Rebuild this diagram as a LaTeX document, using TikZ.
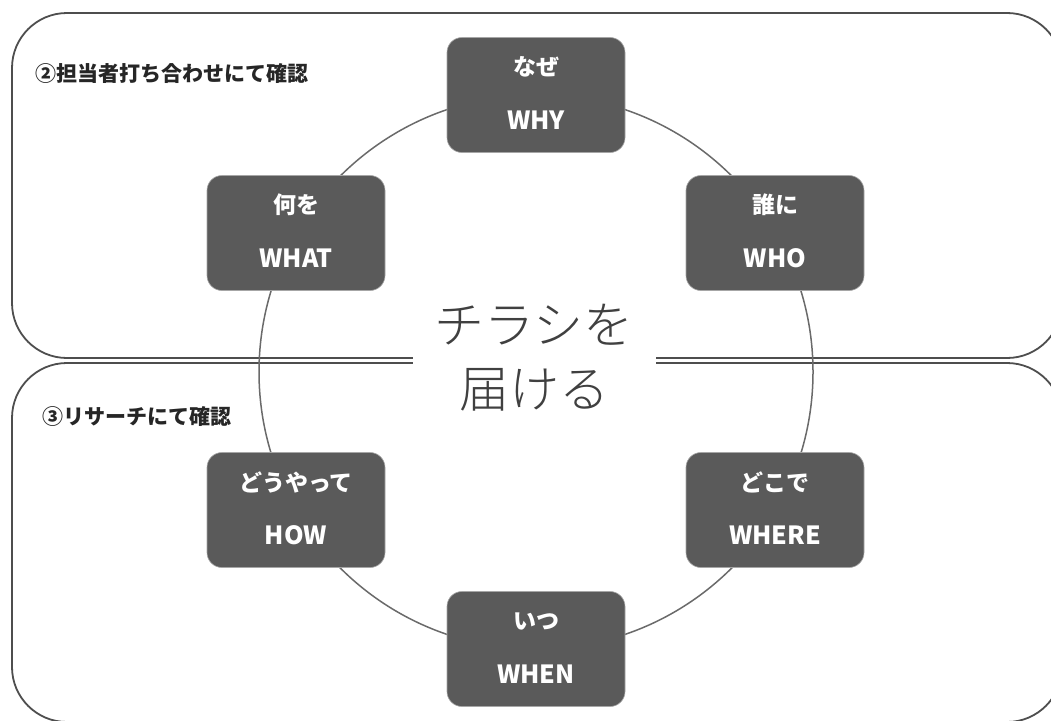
\documentclass[tikz,border=0pt]{standalone}
\usepackage{fontspec}
\newfontfamily\jp{Noto Sans CJK JP}
\newfontfamily\jplight{Noto Sans CJK JP Light}
\definecolor{cardfill}{HTML}{5A5A5A}
\definecolor{ringcol}{HTML}{6A6A6A}
\definecolor{panelcol}{HTML}{4E4E4E}
\definecolor{centcol}{HTML}{404040}
\begin{document}
\begin{tikzpicture}[x=1pt,y=-1pt,
  panel/.style={draw=panelcol,line width=1.8pt,rounded corners=55pt},
  ring/.style={draw=ringcol,line width=1.5pt},
  card/.style={fill=cardfill,draw=gray!70,line width=0.6pt,rounded corners=15pt,minimum width=178pt,minimum height=115pt,inner sep=0pt},
  jtxt/.style={text=white,font=\jp\bfseries\fontsize{23}{26}\selectfont,inner sep=0pt},
  etxt/.style={text=white,font=\jp\bfseries\fontsize{25}{28}\selectfont,inner sep=0pt},
  lbl/.style={text=black!85,font=\jp\bfseries\fontsize{21}{24}\selectfont,anchor=west,inner sep=0pt},
  centre/.style={text=centcol,font=\jplight\fontsize{50}{64}\selectfont,align=center,fill=white,inner xsep=22pt,inner ysep=4pt}
]
\useasboundingbox (0,0) rectangle (1051,720);
\clip (0,0) rectangle (1051,720);
\fill[white] (0,0) rectangle (1051,720);
% panels
\draw[panel] (12,13) rectangle (1062,358);
\draw[panel] (12,363) rectangle (1062,722);
% ring
\draw[ring] (536,372) circle (277);
% labels
\node[lbl] (l2) at (35,74) {②担当者打ち合わせにて確認};
\node[lbl] (l3) at (42,417) {③リサーチにて確認};
% centre
\node[centre] (c) at (534,358) {チラシを\\届ける};
% cards
\foreach \n/\x/\y/\j/\e in {why/536/95/なぜ/WHY, what/296/233/何を/WHAT, who/775/233/誰に/WHO, how/296/510/どうやって/HOW, where/775/510/どこで/WHERE, when/536/649/いつ/WHEN}{
  \node[card] (\n) at (\x,\y) {};
  \node[jtxt] (\n-j) at ([yshift=28pt]\n.center) {\j};
  \node[etxt] (\n-e) at ([yshift=-25pt]\n.center) {\e};
}
\end{tikzpicture}
\end{document}
